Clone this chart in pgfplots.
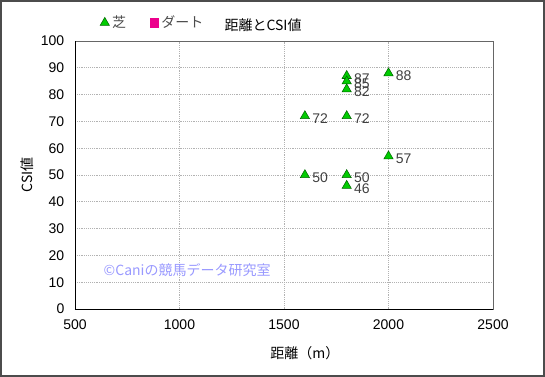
\documentclass[border=0pt]{standalone}
\usepackage{pgfplots}
\pgfplotsset{compat=1.18}
\usepackage{fontspec}
\setmainfont{Liberation Sans}
\newfontfamily\jp{Noto Sans CJK JP}
\definecolor{mkgreen}{HTML}{00CC00}
\definecolor{mkedge}{HTML}{006600}
\definecolor{lblgray}{HTML}{404040}
\definecolor{wm}{HTML}{9999FF}
\begin{document}
\begin{tikzpicture}
\draw[black!70, line width=1.2pt] (0.6pt,0.6pt) rectangle (408.15pt,282.15pt);
\begin{axis}[
  at={(56.25pt,51pt)}, anchor=south west,
  width=313.5pt, height=201pt, scale only axis,
  xmin=500, xmax=2500, ymin=0, ymax=100,
  xtick={500,1000,...,2500}, ytick={0,10,...,100},
  grid=major,
  major grid style={gray!60, densely dotted, line width=0.5pt},
  axis line style={black!60},
  tick style={draw=none},
  ticklabel style={font=\fontsize{10.5}{12}\selectfont, text=black},
  xticklabel style={yshift=-4.5pt},
  yticklabel style={xshift=-4.5pt},
  /pgf/number format/assume math mode=true,
  /pgf/number format/1000 sep={},
  xlabel={\jp 距離（m）}, xlabel style={font=\fontsize{10.5}{12}\selectfont, at={(axis description cs:0.55,0)}, anchor=center, yshift=-33pt},
  ylabel={\jp CSI値}, ylabel style={font=\fontsize{10.5}{12}\selectfont, at={(axis description cs:-0.115,0.5)}, anchor=center},
  legend style={at={(0.05,1.115)}, anchor=north west, draw=none, fill=none,
    font=\jp\fontsize{10.5}{12}\selectfont, text=black!70,
    /tikz/every even column/.append style={column sep=16pt}},
  legend columns=2,
  legend cell align=left,
  clip=false,
]
\addplot[only marks, mark=triangle*, mark size=4pt, mark options={fill=mkgreen, draw=mkedge, line width=0.4pt},
  point meta=explicit, nodes near coords, nodes near coords align={anchor=west},
  every node near coord/.append style={font=\fontsize{10.5}{12}\selectfont, text=lblgray, xshift=2pt, yshift=-2pt}]
  table[meta=v] {
  x y v
  1600 72 72
  1600 50 50
  1800 87 87
  1800 85 85
  1800 82 82
  1800 72 72
  1800 50 50
  1800 46 46
  2000 88 88
  2000 57 57
  };
\addlegendentry{芝}
\addlegendimage{only marks, mark=square*, mark size=3.2pt, mark options={fill=magenta, draw=magenta}}
\addlegendentry{ダート}
\draw[black] (axis cs:500,0) -- (axis cs:500,100);
\draw[black] (axis cs:500,0) -- (axis cs:2500,0);
\end{axis}
\node[font=\jp\fontsize{10.5}{12}\selectfont] at (197.25pt,264pt) {距離とCSI値};
\node[font=\jp\fontsize{10.5}{12}\selectfont, text=wm, anchor=west] at (74.25pt,80.25pt) {©Caniの競馬データ研究室};
\end{tikzpicture}
\end{document}
